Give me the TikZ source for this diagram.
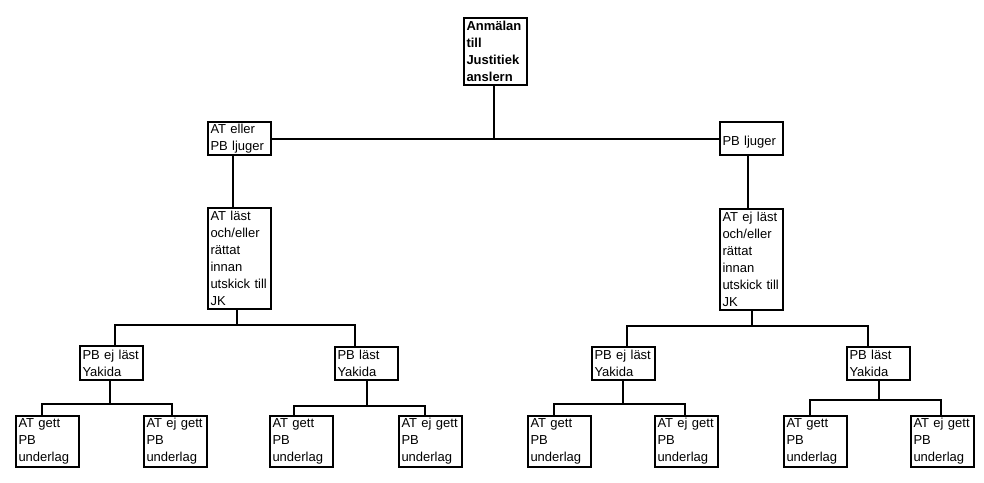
\documentclass[tikz,border=0pt]{standalone}
\usepackage{fontspec}
\setmainfont{Liberation Sans}
\begin{document}
\begin{tikzpicture}[x=1pt,y=-1pt,
  bx/.style={draw, line width=2pt, rectangle, anchor=north west, inner xsep=2.5pt, inner ysep=0pt,
    align=left, text width=58pt, minimum width=63pt, font=\fontsize{13}{17}\selectfont},
  leaf/.style={bx, minimum height=51pt},
  ln/.style={line width=2pt, line cap=rect}]
\useasboundingbox (0,0) rectangle (984,482);
\fill[white] (0,0) rectangle (984,482);
% level 0
\node[bx, minimum height=67pt, font=\fontsize{13}{17}\selectfont\bfseries] (root) at (463,17) {Anmälan\\till\\Justitiek\\anslern};
% level 1
\node[bx, minimum height=33pt] (atel) at (207,121) {AT eller\\PB ljuger};
\node[bx, minimum height=33pt] (pbl) at (719,121) {\mbox{}\\PB ljuger};
% level 2
\node[bx, minimum height=101pt] (atl) at (207,207) {AT läst\\och/eller\\rättat\\innan\\utskick till\\JK};
\node[bx, minimum height=101pt] (aejl) at (719,208) {AT ej läst\\och/eller\\rättat\\innan\\utskick till\\JK};
% level 3
\node[bx, minimum height=34pt] (pbeL) at (79,345) {PB ej läst\\Yakida};
\node[bx, minimum height=33pt] (pblL) at (334,346) {PB läst\\Yakida};
\node[bx, minimum height=33pt] (pbeR) at (591,346) {PB ej läst\\Yakida};
\node[bx, minimum height=33pt] (pblR) at (846,346) {PB läst\\Yakida};
% level 4
\node[leaf] (l1) at (15,415) {AT gett\\PB\\underlag};
\node[leaf] (l2) at (143,415) {AT ej gett\\PB\\underlag};
\node[leaf] (l3) at (269,415) {AT gett\\PB\\underlag};
\node[leaf] (l4) at (398,415) {AT ej gett\\PB\\underlag};
\node[leaf] (l5) at (527,415) {AT gett\\PB\\underlag};
\node[leaf] (l6) at (654,415) {AT ej gett\\PB\\underlag};
\node[leaf] (l7) at (783,415) {AT gett\\PB\\underlag};
\node[leaf] (l8) at (910,415) {AT ej gett\\PB\\underlag};
% connectors
\draw[ln] (atel.east) -- (pbl.west);
\draw[ln] ([xshift=-1.5pt]root.south) |- (atel.east);
\draw[ln] ([xshift=-6.5pt]atel.south) -- ([xshift=-6.5pt]atl.north);
\draw[ln] ([xshift=-3.5pt]pbl.south) -- ([xshift=-3.5pt]aejl.north);
\draw[ln] ([xshift=-2.5pt]atl.south) -- ++(0,15) coordinate (j1);
\draw[ln] ([xshift=3.5pt]pbeL.north) |- (j1);
\draw[ln] ([xshift=-11.5pt]pblL.north) |- (j1);
\draw[ln] (aejl.south) -- ++(0,15) coordinate (j2);
\draw[ln] ([xshift=3.5pt]pbeR.north) |- (j2);
\draw[ln] ([xshift=-10.5pt]pblR.north) |- (j2);
\draw[ln] ([xshift=-1.5pt]pbeL.south) -- ++(0,23) coordinate (j3);
\draw[ln] ([xshift=-5.5pt]l1.north) |- (j3);
\draw[ln] ([xshift=-3.5pt]l2.north) |- (j3);
\draw[ln] ([xshift=0.5pt]pblL.south) -- ++(0,25) coordinate (j4);
\draw[ln] ([xshift=-7.5pt]l3.north) |- (j4);
\draw[ln] ([xshift=-6pt]l4.north) |- (j4);
\draw[ln] ([xshift=-0.5pt]pbeR.south) -- ++(0,23) coordinate (j5);
\draw[ln] ([xshift=-5.5pt]l5.north) |- (j5);
\draw[ln] ([xshift=-1.5pt]l6.north) |- (j5);
\draw[ln] ([xshift=0.5pt]pblR.south) -- ++(0,19) coordinate (j6);
\draw[ln] ([xshift=-5.5pt]l7.north) |- (j6);
\draw[ln] ([xshift=-1.5pt]l8.north) |- (j6);
\end{tikzpicture}
\end{document}
